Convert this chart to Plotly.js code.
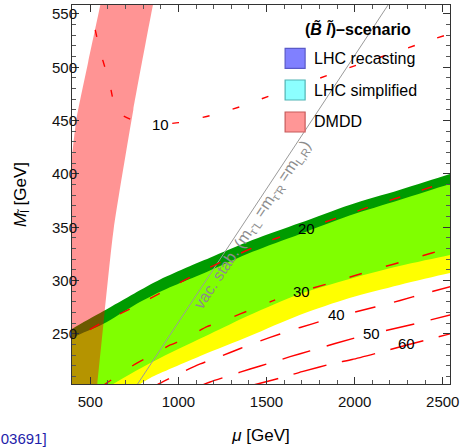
<!DOCTYPE html>
<html><head><meta charset="utf-8">
<script src="https://cdn.plot.ly/plotly-3.0.1.min.js"></script>
<style>html,body{margin:0;padding:0;background:#fff;}#plot{width:461px;height:447px;}</style>
</head><body><div id="plot"></div>
<script>
// ---- region boundaries (mu [GeV], M [GeV]) ----
const darkTopMu = [150, 396, 575, 750, 896, 1050, 1179, 1420, 1688, 1971, 2254, 2541, 2800];
const darkTopM  = [228, 254.7, 271.5, 288, 301, 312.5, 321.5, 338, 354, 371, 385, 400, 413];
const limeTopMu = [150, 396, 575, 750, 896, 1050, 1179, 1420, 1688, 1971, 2254, 2541, 2800];
const limeTopM  = [218, 246, 259.5, 277, 289.5, 300.5, 309.5, 327, 343.5, 361, 375.6, 390.6, 403];
const yellowTopMu = [450, 630, 896, 1179, 1405, 1688, 1971, 2254, 2541, 2800];
const yellowTopM  = [181.5, 203.1, 227.5, 250, 267.8, 287.5, 301.6, 313.75, 324.1, 333];
const yellowBotMu = [600, 783, 840, 1124, 1405, 1688, 1971, 2254, 2541, 2800];
const yellowBotM  = [185, 203.1, 208.8, 229.4, 248.1, 267.8, 283.8, 296, 307.2, 316];
// DMDD band edges
const dmddRightMu = [517, 539.7, 581, 632, 744, 855.5, 885.6];
const dmddRightM  = [169.4, 203.1, 269.7, 347.5, 460, 558.4, 581.9];
const dmddLeftMu  = [585, 556.7, 488, 420.6, 396, 350, 290, 270];
const dmddLeftM   = [582, 558.4, 505, 450.6, 416, 340, 203, 169.4];
// vacuum stability line
const vacMu = [720, 2240];
const vacM  = [191, 571];
// contour lines (null = label gap)
const c10Mu = [528, 557, 608, 653, 818, 840, null, 965, 1001, 1180, 1351, 1521, 1870, 2048, 2218, 2388, 2560];
const c10M  = [535, 514.4, 486.3, 458.1, 445.9, 446.2, null, 447.4, 448.1, 454.7, 463.1, 473.4, 493.8, 504.1, 513.4, 523.1, 532.5];
const c20Mu = [330, 396, 574, 755, 931, 1112, 1294, 1498, 1577, null, 1833, 1918, 2116, 2314, 2560];
const c20M  = [237.8, 244.4, 261.3, 275.8, 291.3, 307.2, 321.3, 336.3, 340.9, null, 355, 359.7, 370.9, 381.3, 394.4];
const c30Mu = [557, 585, 746, 831, 954, 1029, 1162, 1218, 1351, 1445, 1549, null, 1764, 1861, 2003, 2144, 2296, 2438, 2560];
const c30M  = [200.3, 203.1, 220.9, 228.7, 239.7, 244.8, 256.8, 260, 268.8, 275, 281.9, null, 293.1, 297.8, 304.8, 311.9, 318.9, 325.9, 331.6];
const c40Mu = [840, 897, 1010, 1124, 1237, 1351, 1464, 1577, 1691, 1833, 1861, null, 2003, 2116, 2258, 2400, 2560];
const c40M  = [199.4, 203.8, 213.4, 221.9, 228.9, 236.4, 243.4, 250, 256.1, 263.1, 264.5, null, 270.6, 275.3, 281.4, 288, 295];
const c50Mu = [1095, 1180, 1294, 1407, 1521, 1634, 1747, 1889, 2020, null, 2178, 2314, 2428, 2560];
const c50M  = [199.4, 205, 211.1, 217.2, 222.8, 228.7, 234.1, 241.1, 247.2, null, 253.3, 258.4, 263.1, 268.6];
const c60Mu = [1379, 1464, 1606, 1702, 1889, 1986, 2173, 2297, 2428, 2560];
const c60M  = [200.3, 203.8, 210, 214.7, 222.8, 226.1, 234.1, 239.7, 245.3, 250.9];
const contourLabels = ["10", "20", "30", "40", "50", "60"];
const labelMu = [897, 1729, 1700, 1899, 2097, 2296];
const labelM  = [446, 349, 289.7, 267.8, 250.7, 241.3];
// legend
const legendTitle = "<b>(<i>B̃ l̃</i>)–scenario</b>";
const legendLabels = ["LHC recasting", "LHC simplified", "DMDD"];
const xTicks = [500, 1000, 1500, 2000, 2500];
const yTicks = [250, 300, 350, 400, 450, 500, 550];

// ---- build ----
const FLOOR = 150;
function below(mu, m, color) {
  return {x: mu.concat([mu[mu.length-1], mu[0]]), y: m.concat([FLOOR, FLOOR]),
    mode: 'lines', line: {width: 0, shape: 'spline', smoothing: 0.8}, fill: 'toself', fillcolor: color,
    hoverinfo: 'skip', showlegend: false};
}
const traces = [
  below(darkTopMu, darkTopM, 'rgb(0,155,0)'),
  below(limeTopMu, limeTopM, 'rgb(128,255,0)'),
  below(yellowTopMu, yellowTopM, 'rgb(255,255,0)'),
  below(yellowBotMu, yellowBotM, 'rgb(255,255,255)'),
  {x: dmddRightMu.concat(dmddLeftMu), y: dmddRightM.concat(dmddLeftM), mode: 'lines',
   line: {width: 0, shape: 'spline', smoothing: 0.6}, fill: 'toself',
   fillcolor: 'rgba(255,0,0,0.42)', hoverinfo: 'skip', showlegend: false},
  {x: vacMu, y: vacM, mode: 'lines', line: {color: '#9a9a9a', width: 1}, hoverinfo: 'skip', showlegend: false}
];
const contours = [[c10Mu, c10M, '7px,24px'], [c20Mu, c20M, '11px,23px'], [c30Mu, c30M, '13px,25px'],
  [c40Mu, c40M, '21px,19px'], [c50Mu, c50M, '29px,17px'], [c60Mu, c60M, '34px,16px']];
contours.forEach(c => traces.push({x: c[0], y: c[1], mode: 'lines', connectgaps: false,
  line: {color: '#ff0000', width: 1.4, dash: c[2], shape: 'spline', smoothing: 0.6}, hoverinfo: 'skip', showlegend: false}));

const FONT = 'Liberation Sans, Arial, Helvetica, sans-serif';
const annotations = contourLabels.map((t, i) => ({x: labelMu[i], y: labelM[i], xref: 'x', yref: 'y', text: t,
  showarrow: false, xanchor: 'center', yanchor: 'middle', font: {size: 15, color: '#000', family: FONT}}));
annotations.push({x: 1421, y: 351.7, xref: 'x', yref: 'y', showarrow: false, textangle: -56.5,
  xanchor: 'center', yanchor: 'middle',
  text: 'vac. stab. (m<sub>τ̃ L</sub> =m<sub>τ̃ R</sub> =m<sub>L,R</sub>)', font: {size: 16, color: '#8c8c8c', family: FONT}});
// legend text
annotations.push({x: 0.7555, y: 0.9385, xref: 'paper', yref: 'paper', text: legendTitle, showarrow: false,
  xanchor: 'center', yanchor: 'middle', font: {size: 16, color: '#000', family: FONT}});
const legY = [0.8594, 0.7757, 0.6913];
legendLabels.forEach((t, i) => annotations.push({x: 0.6344, y: legY[i], xref: 'paper', yref: 'paper', text: t,
  xanchor: 'left', yanchor: 'middle', showarrow: false, font: {size: 16, color: '#000', family: FONT}}));
annotations.push({x: -0.06, y: -0.1425, xref: 'paper', yref: 'paper', text: '[2105.03691]', xanchor: 'right',
  yanchor: 'middle', showarrow: false, font: {size: 15, color: 'rgb(30,30,170)', family: FONT}});

const swatchFill = ['rgb(128,128,255)', 'rgb(140,255,255)', 'rgb(255,150,150)'];
const swatchLine = ['rgb(90,90,200)', 'rgb(80,180,180)', 'rgb(200,90,90)'];
const shapes = legY.map((yc, i) => ({type: 'rect', xref: 'paper', yref: 'paper', x0: 0.5638, x1: 0.6167,
  y0: yc - 0.0264, y1: yc + 0.0264, fillcolor: swatchFill[i], line: {color: swatchLine[i], width: 1.2}}));

const axisCommon = {showgrid: false, zeroline: false, showline: true, linecolor: '#333', linewidth: 1,
  mirror: 'ticks', ticks: 'inside', ticklen: 7, tickcolor: '#333', tickwidth: 1,
  tickfont: {size: 15, color: '#111', family: FONT}};
const layout = {
  width: 461, height: 447, margin: {l: 72, r: 11, t: 5, b: 63},
  paper_bgcolor: '#fff', plot_bgcolor: '#fff', font: {family: FONT},
  xaxis: Object.assign({}, axisCommon, {range: [396.2, 2541.2], tickvals: xTicks, ticklabelstandoff: 4,
    minor: {ticks: 'inside', ticklen: 4, dtick: 100, tick0: 0, tickcolor: '#555'},
    title: {text: '<i>μ</i> [GeV]', font: {size: 17, color: '#000', family: FONT}, standoff: 20}}),
  yaxis: Object.assign({}, axisCommon, {range: [203.1, 558.4], tickvals: yTicks, ticklabelstandoff: -9,
    minor: {ticks: 'inside', ticklen: 4, dtick: 10, tick0: 0, tickcolor: '#555'},
    title: {text: '<i>M</i><sub>l̃</sub> [GeV]', font: {size: 17, color: '#000', family: FONT}, standoff: 21}}),
  annotations: annotations, shapes: shapes, showlegend: false
};
Plotly.newPlot('plot', traces, layout, {staticPlot: true});
</script></body></html>
